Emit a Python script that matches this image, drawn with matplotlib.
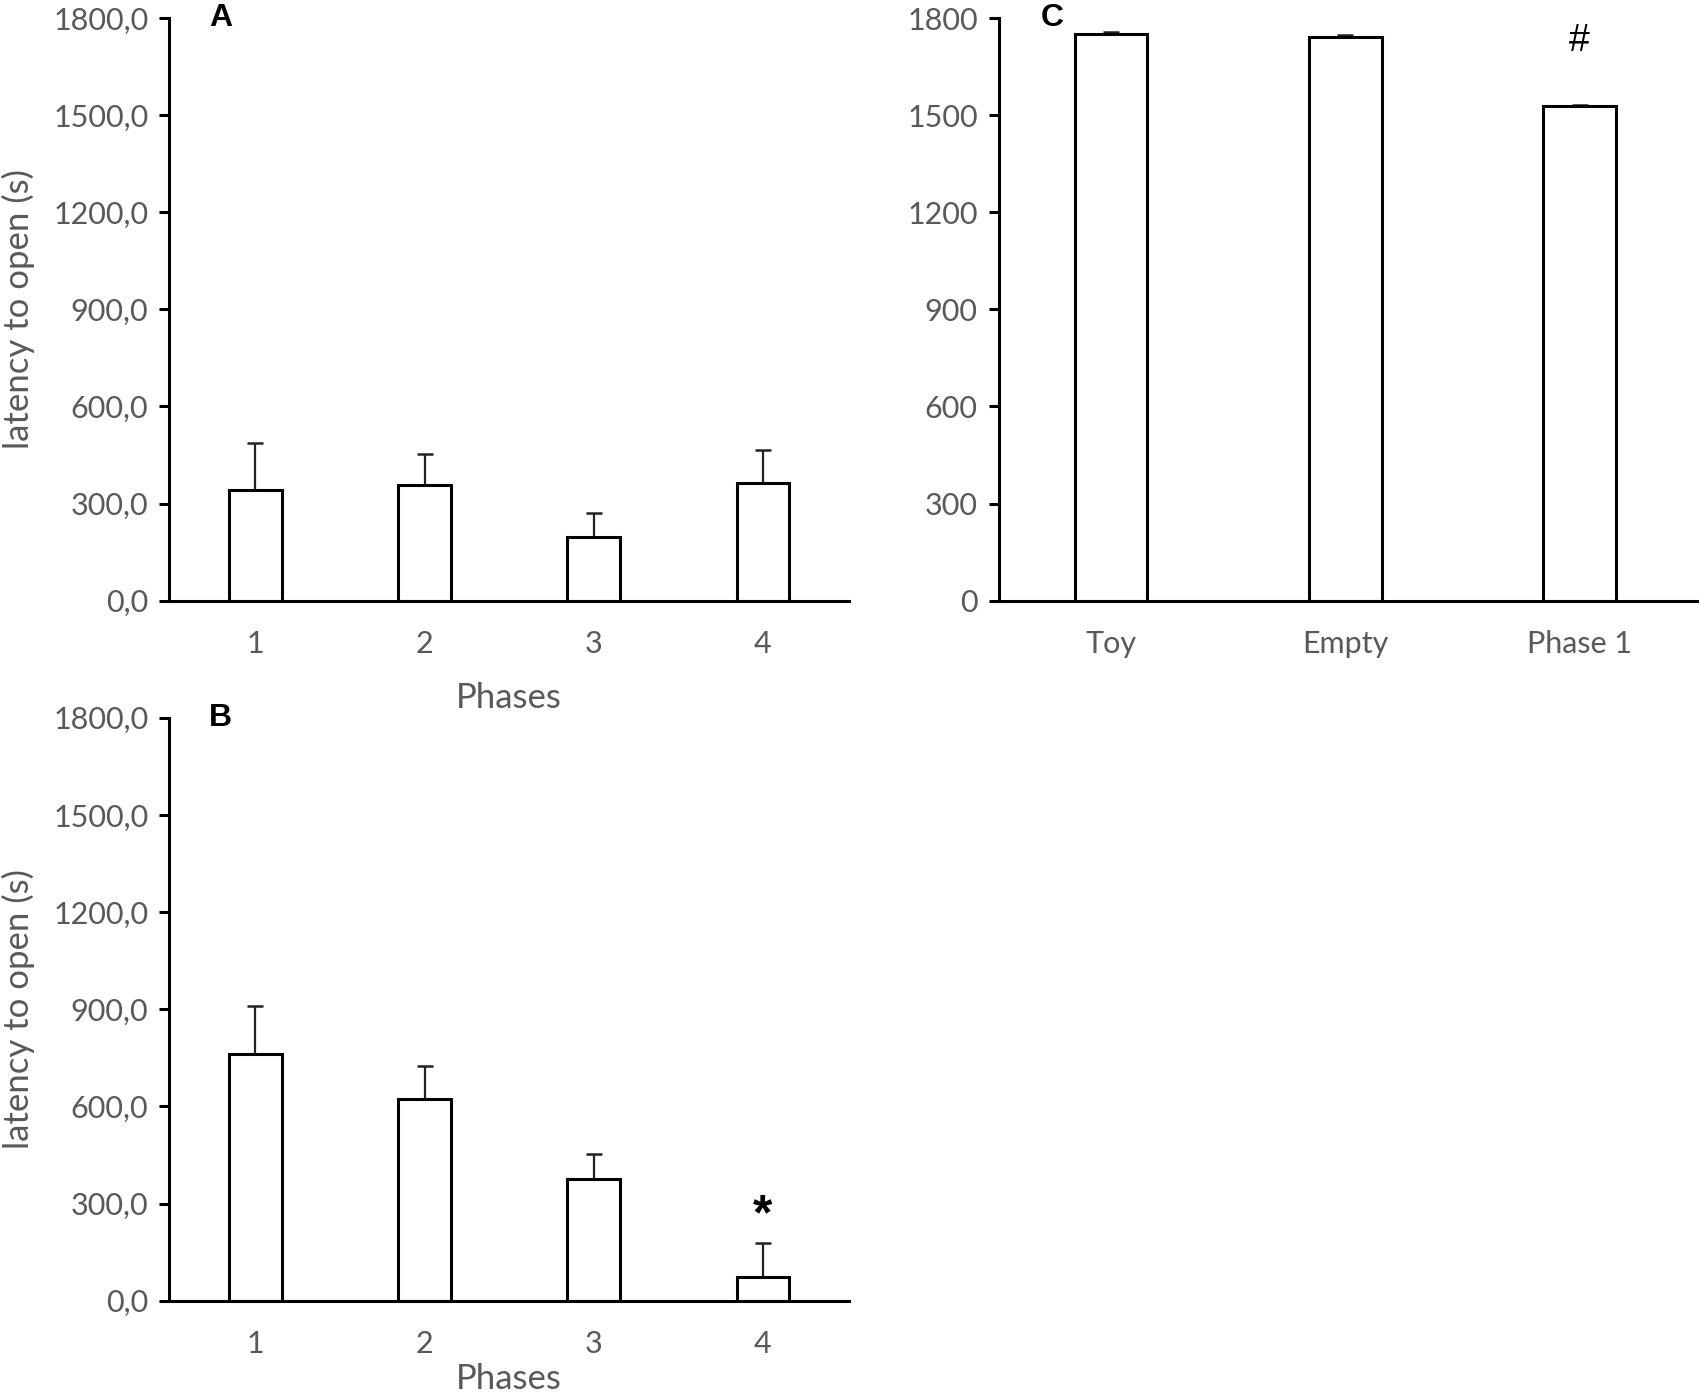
import matplotlib.pyplot as plt
import numpy as np

# data
phases = ['1', '2', '3', '4']
a_means = [341, 357, 195, 362]
a_err = [146, 96, 75, 103]
b_means = [763, 624, 376, 73]
b_err = [147, 101, 78, 104]

c_labels = ['Toy', 'Empty', 'Phase 1']
c_means = [1753, 1743, 1528]
c_err = [5, 5, 4]

yticks = [0, 300, 600, 900, 1200, 1500, 1800]

plt.rcParams['font.family'] = ['Lato', 'DejaVu Sans']
gray = '#595959'

fig = plt.figure(figsize=(17, 13.94), dpi=100)
axA = fig.add_axes([0.0995, 0.5692, 0.3999, 0.4176])
axB = fig.add_axes([0.0995, 0.0669, 0.3999, 0.4183])
axC = fig.add_axes([0.5874, 0.5692, 0.4107, 0.4176])


def style(ax, labels, means, err, decimals, xlim):
    x = np.arange(len(labels))
    ax.bar(x, means, width=0.31, color='white', edgecolor='black', linewidth=2.2, zorder=2)
    ax.errorbar(x, means, yerr=[[0] * len(err), err], fmt='none', ecolor='#222222',
                elinewidth=1.6, capsize=6, capthick=1.8, zorder=1)
    ax.set_xlim(*xlim)
    ax.set_ylim(0, 1800)
    ax.set_yticks(yticks)
    if decimals:
        ax.set_yticklabels([f'{v},0' for v in yticks])
    else:
        ax.set_yticklabels([str(v) for v in yticks])
    ax.set_xticks(x)
    ax.set_xticklabels(labels)
    for s in ['top', 'right']:
        ax.spines[s].set_visible(False)
    for s in ['left', 'bottom']:
        ax.spines[s].set_linewidth(2.2)
    ax.tick_params(axis='y', length=7, width=2.2, pad=8, labelsize=22, labelcolor=gray)
    ax.tick_params(axis='x', length=0, pad=21, labelsize=22, labelcolor=gray)


style(axA, phases, a_means, a_err, True, (-0.51, 3.51))
style(axB, phases, b_means, b_err, True, (-0.51, 3.51))
style(axC, c_labels, c_means, c_err, False, (-0.48, 2.5))

for ax in [axA, axB]:
    ax.set_ylabel('latency to open (s)', fontsize=25, color=gray)
    ax.yaxis.set_label_coords(-0.198, 0.5)
axA.set_xlabel('Phases', fontsize=25, color=gray)
axA.xaxis.set_label_coords(0.5, -0.14)
axB.set_xlabel('Phases', fontsize=25, color=gray)
axB.xaxis.set_label_coords(0.5, -0.106)

axA.text(0.059, 1.0, 'A', transform=axA.transAxes, fontsize=23, fontweight='bold',
         family='Liberation Sans', va='center', ha='left')
axB.text(0.059, 1.0, 'B', transform=axB.transAxes, fontsize=23, fontweight='bold',
         family='Liberation Sans', va='center', ha='left')
axC.text(0.06, 1.0, 'C', transform=axC.transAxes, fontsize=23, fontweight='bold',
         family='Liberation Sans', va='center', ha='left')

axB.text(3, 262, '*', fontsize=36, fontweight='bold', ha='center', va='center',
         family='Liberation Sans')
axC.text(2, 1730, '#', fontsize=27, ha='center', va='center', family='Liberation Sans')

fig.savefig('out.png', dpi=100)
